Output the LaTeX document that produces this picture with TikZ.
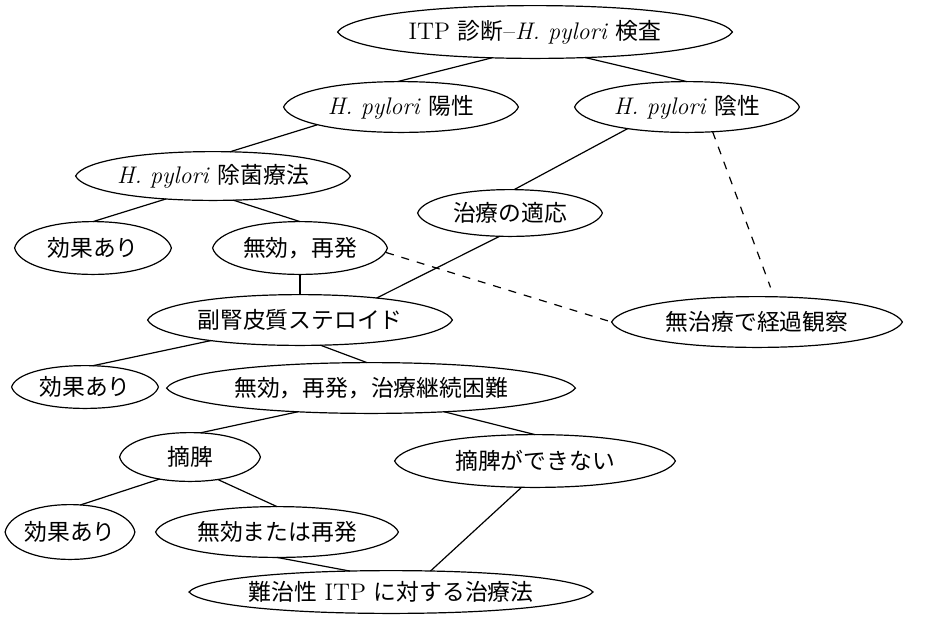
\documentclass[tikz,border=0pt]{standalone}
\usepackage{fontspec}
\newfontfamily\jp{Noto Sans CJK JP}[Scale=0.95]
\usetikzlibrary{shapes.geometric,calc}
\begin{document}
\begin{tikzpicture}[x=0.5pt,y=-0.5pt,
  oval/.style={ellipse, inner sep=0pt,
    font=\fontsize{12}{14}\selectfont},
  outline/.style={line width=0.6pt},
  link/.style={line width=0.6pt},
  dlink/.style={line width=0.6pt, dash pattern=on 4pt off 4pt}]
\useasboundingbox (0,0) rectangle (930,623);
\fill[white] (0,0) rectangle (930,623);
% nodes
\node[oval, minimum width=197pt, minimum height=26pt] (root) at (535,32) {ITP {\jp 診断}--\textit{H. pylori} {\jp 検査}};
\node[oval, minimum width=117pt, minimum height=25pt] (pos) at (401,107) {\textit{H. pylori} {\jp 陽性}};
\node[oval, minimum width=112pt, minimum height=25pt] (neg) at (687,107) {\textit{H. pylori} {\jp 陰性}};
\node[oval, minimum width=137pt, minimum height=24pt] (erad) at (213,176) {\textit{H. pylori} {\jp 除菌療法}};
\node[oval, minimum width=92pt, minimum height=23pt] (indic) at (510,213) {\jp 治療の適応};
\node[oval, minimum width=78pt, minimum height=26pt] (eff1) at (93,248) {\jp 効果あり};
\node[oval, minimum width=87pt, minimum height=26pt] (fail1) at (300,248) {\jp 無効，再発};
\node[oval, minimum width=152pt, minimum height=25pt] (ster) at (300,320) {\jp 副腎皮質ステロイド};
\node[oval, minimum width=145pt, minimum height=25pt] (watch) at (757,322) {\jp 無治療で経過観察};
\node[oval, minimum width=73pt, minimum height=21pt] (eff2) at (85,387) {\jp 効果あり};
\node[oval, minimum width=204pt, minimum height=25pt] (fail2) at (371,388) {\jp 無効，再発，治療継続困難};
\node[oval, minimum width=70pt, minimum height=24pt] (splen) at (190,457) {\jp 摘脾};
\node[oval, minimum width=140pt, minimum height=26pt] (nosplen) at (535,461) {\jp 摘脾ができない};
\node[oval, minimum width=62pt, minimum height=27pt] (eff3) at (70,532) {\jp 効果あり};
\node[oval, minimum width=121pt, minimum height=25pt] (fail3) at (277,532) {\jp 無効または再発};
\node[oval, minimum width=194pt, minimum height=21pt] (refr) at (391,592) {{\jp 難治性} ITP {\jp に対する治療法}};
% slightly pointed oval outlines
\foreach \nd in {root,pos,neg,erad,indic,eff1,fail1,ster,watch,eff2,fail2,splen,nosplen,eff3,fail3,refr}{
  \draw[outline] let \p1=(\nd.west), \p2=(\nd.east), \p3=(\nd.north), \p4=(\nd.south),
    \n1={(\x2-\x1)/2}, \n2={(\y3-\y4)/2} in
    (\p1) .. controls ({\x1+0.05*\n1},{\y1+0.58*\n2}) and ({\x3-0.56*\n1},{\y3}) .. (\p3)
    .. controls ({\x3+0.56*\n1},{\y3}) and ({\x2-0.05*\n1},{\y2+0.58*\n2}) .. (\p2)
    .. controls ({\x2-0.05*\n1},{\y2-0.58*\n2}) and ({\x4+0.56*\n1},{\y4}) .. (\p4)
    .. controls ({\x4-0.56*\n1},{\y4}) and ({\x1+0.05*\n1},{\y1-0.58*\n2}) .. cycle;
}
% solid connectors
\draw[link] (root.211) -- (pos.98);
\draw[link] (root.333) -- (neg.90);
\draw[link] (pos.192) -- (erad.55);
\draw[link] (neg.200) -- (indic.80);
\draw[link] (erad.206) -- (eff1.90);
\draw[link] (erad.310) -- (fail1.90);
\draw[link] (fail1.south) -- (ster.north);
\draw[link] (indic.246) -- (ster.16);
\draw[link] (ster.193) -- (eff2.70);
\draw[link] (ster.309) -- (fail2.99);
\draw[link] (fail2.198) -- (splen.67);
\draw[link] (fail2.342) -- (nosplen.90);
\draw[link] (splen.216) -- (eff3.69);
\draw[link] (splen.321) -- (fail3.90);
\draw[link] (fail3.270) -- (refr.153);
\draw[link] (nosplen.243) -- (refr.28);
% dashed connectors
\draw[dlink, shorten >=5pt] (neg.316) -- (watch.56);
\draw[dlink] (fail1.357) -- (watch.west);
\end{tikzpicture}
\end{document}
